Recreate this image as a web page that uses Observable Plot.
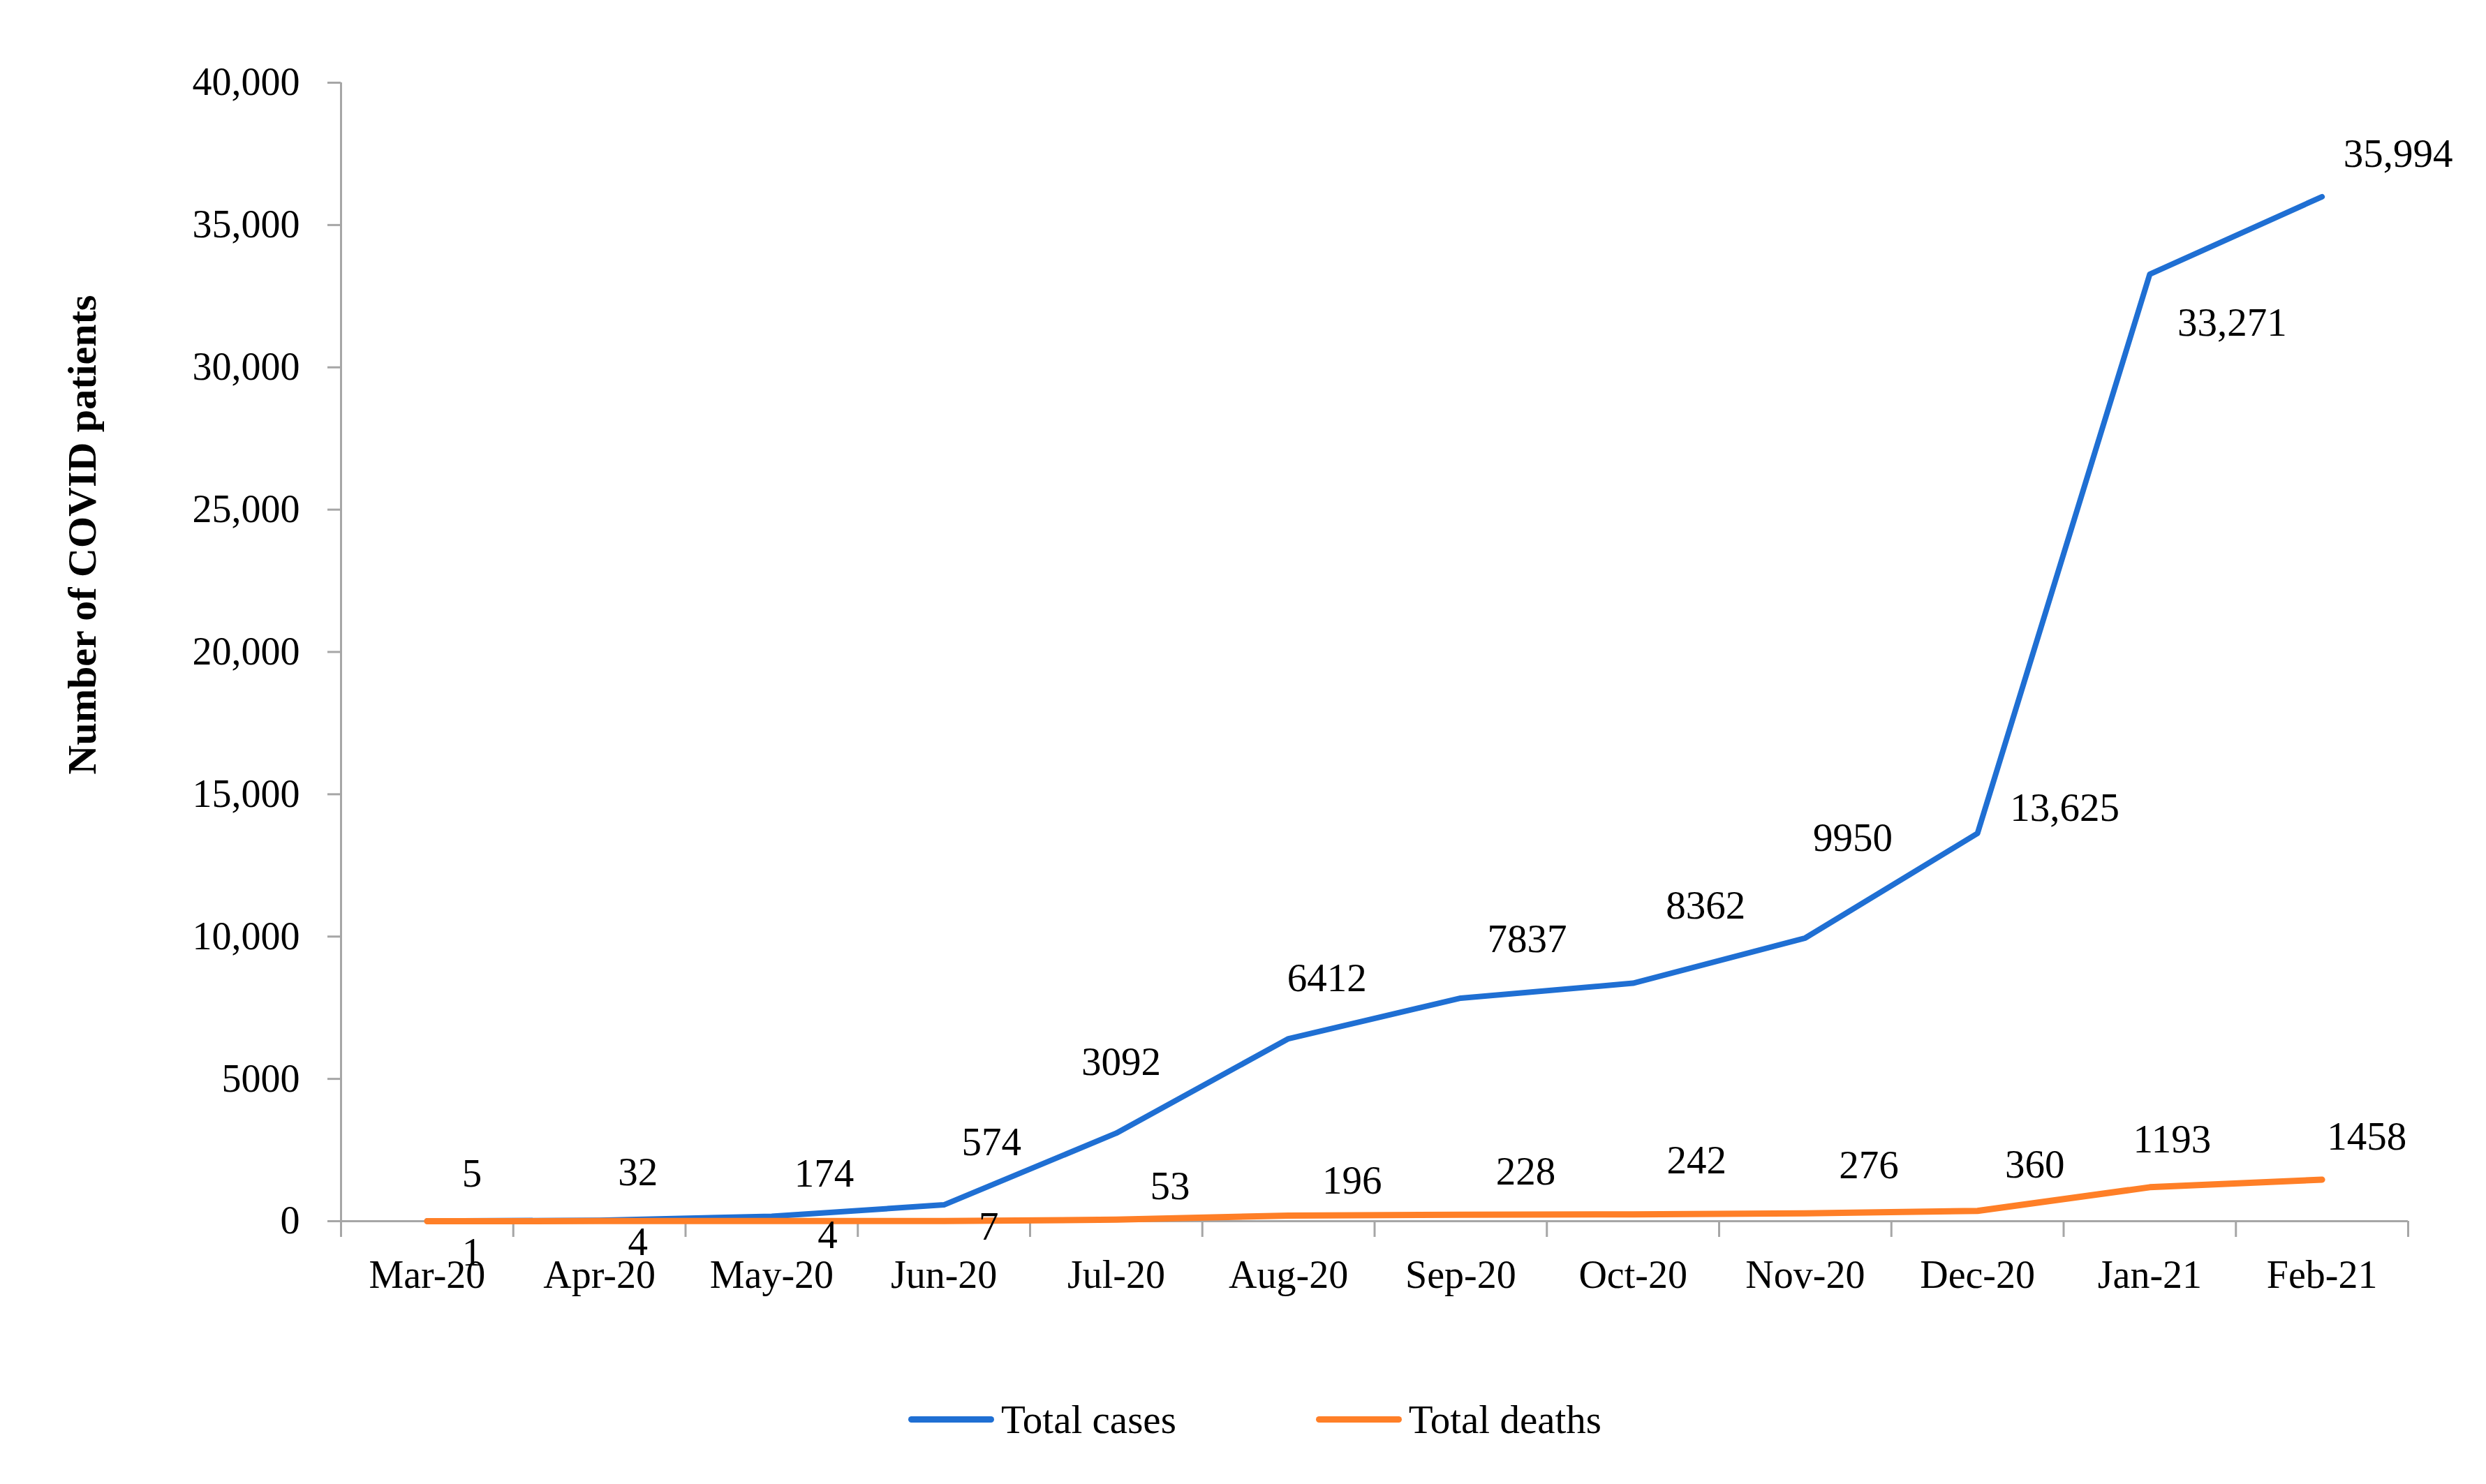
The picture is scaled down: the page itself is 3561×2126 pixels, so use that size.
<!DOCTYPE html>
<html><head><meta charset="utf-8">
<script src="https://cdn.jsdelivr.net/npm/d3@7"></script>
<script src="https://cdn.jsdelivr.net/npm/@observablehq/plot@0.6"></script>
<style>
html,body{margin:0;padding:0;background:#fff;}
#wrap{position:relative;width:3561px;height:2126px;background:#fff;font-family:"Liberation Serif","DejaVu Serif",serif;overflow:hidden;}
#legend{position:absolute;left:1301px;top:2003px;height:60px;display:flex;align-items:center;font-size:57px;color:#000;}
.item{display:flex;align-items:center;}
.item + .item{margin-left:200px;}
.swatch{width:123px;height:9px;border-radius:5px;margin-right:10px;}
</style></head><body>
<div id="wrap"><div id="chart"></div><div id="legend"></div></div>
<script>
const months = ["Mar-20","Apr-20","May-20","Jun-20","Jul-20","Aug-20","Sep-20","Oct-20","Nov-20","Dec-20","Jan-21","Feb-21"];
const totalCases = [5, 32, 174, 574, 3092, 6412, 7837, 8362, 9950, 13625, 33271, 35994];
const totalDeaths = [1, 4, 4, 7, 53, 196, 228, 242, 276, 360, 1193, 1458];
const yTicks = [0, 5000, 10000, 15000, 20000, 25000, 30000, 35000, 40000];
const yTickLabels = ["0", "5000", "10,000", "15,000", "20,000", "25,000", "30,000", "35,000", "40,000"];
const seriesNames = ["Total cases", "Total deaths"];
const seriesColors = ["#1F6FD3", "#FF7F27"];

// label nudges (style only), in pixels relative to each point
const caseLabelNudge = [[64,-68],[55,-68],[75,-61],[68,-89],[7,-102],[55,-86],[95,-84],[104,-111],[68,-143],[125,-36],[118,70],[109,-61]];
const deathLabelNudge = [[64,45],[55,30],[80,20],[64,9],[77,-48],[91,-50],[93,-61],[91,-77],[91,-68],[82,-66],[32,-68],[64,-61]];

const fmt = v => v >= 10000 ? d3.format(",")(v) : String(v);
const rows = months.map((m, i) => ({i, month: m, cases: totalCases[i], deaths: totalDeaths[i]}));
const boundaries = d3.range(months.length + 1).map(k => k - 0.5);
const axisGray = "#a6a6a6";

const labelMarks = [];
rows.forEach((r, k) => {
  labelMarks.push(Plot.text([r], {x: "i", y: "cases", text: d => fmt(d.cases), dx: caseLabelNudge[k][0], dy: caseLabelNudge[k][1], fill: "black", fontSize: 57}));
  labelMarks.push(Plot.text([r], {x: "i", y: "deaths", text: d => fmt(d.deaths), dx: deathLabelNudge[k][0], dy: deathLabelNudge[k][1], fill: "black", fontSize: 57}));
});

const chart = Plot.plot({
  width: 3561,
  height: 1940,
  marginLeft: 488,
  marginRight: 112,
  marginTop: 118,
  marginBottom: 191,
  style: {fontFamily: '"Liberation Serif","DejaVu Serif",serif', fontSize: "56px", color: "black", background: "white"},
  x: {type: "linear", domain: [-0.5, months.length - 0.5]},
  y: {domain: [0, 40000]},
  marks: [
    Plot.ruleY([0], {stroke: axisGray, strokeWidth: 3}),
    Plot.ruleX([-0.5], {y1: 40000, y2: 0, insetBottom: -23, stroke: axisGray, strokeWidth: 3}),
    Plot.axisY({ticks: yTicks, tickFormat: d => yTickLabels[yTicks.indexOf(d)], tickSize: 19, tickPadding: 40, stroke: axisGray, strokeWidth: 3, fill: "black", fontSize: 56, label: null}),
    Plot.axisX({ticks: boundaries, tickFormat: () => "", tickSize: 23, stroke: axisGray, strokeWidth: 3, label: null}),
    Plot.axisX({ticks: d3.range(months.length), tickFormat: i => months[i], tickSize: 0, tickPadding: 56, fill: "black", fontSize: 56, label: null}),
    Plot.line(rows, {x: "i", y: "cases", stroke: seriesColors[0], strokeWidth: 8, strokeLinecap: "round", strokeLinejoin: "round"}),
    Plot.line(rows, {x: "i", y: "deaths", stroke: seriesColors[1], strokeWidth: 9, strokeLinecap: "round", strokeLinejoin: "round"}),
    ...labelMarks,
    Plot.text(["Number of COVID patients"], {frameAnchor: "left", textAnchor: "middle", text: d => d, rotate: -90, dx: -370, dy: -168, fontWeight: "bold", fontSize: 58, fill: "black"})
  ]
});
document.getElementById("chart").appendChild(chart);

const legend = document.getElementById("legend");
seriesNames.forEach((name, k) => {
  const item = document.createElement("div");
  item.className = "item";
  const sw = document.createElement("div");
  sw.className = "swatch";
  sw.style.background = seriesColors[k];
  const lab = document.createElement("span");
  lab.textContent = name;
  item.appendChild(sw);
  item.appendChild(lab);
  legend.appendChild(item);
});
</script>
</body></html>
